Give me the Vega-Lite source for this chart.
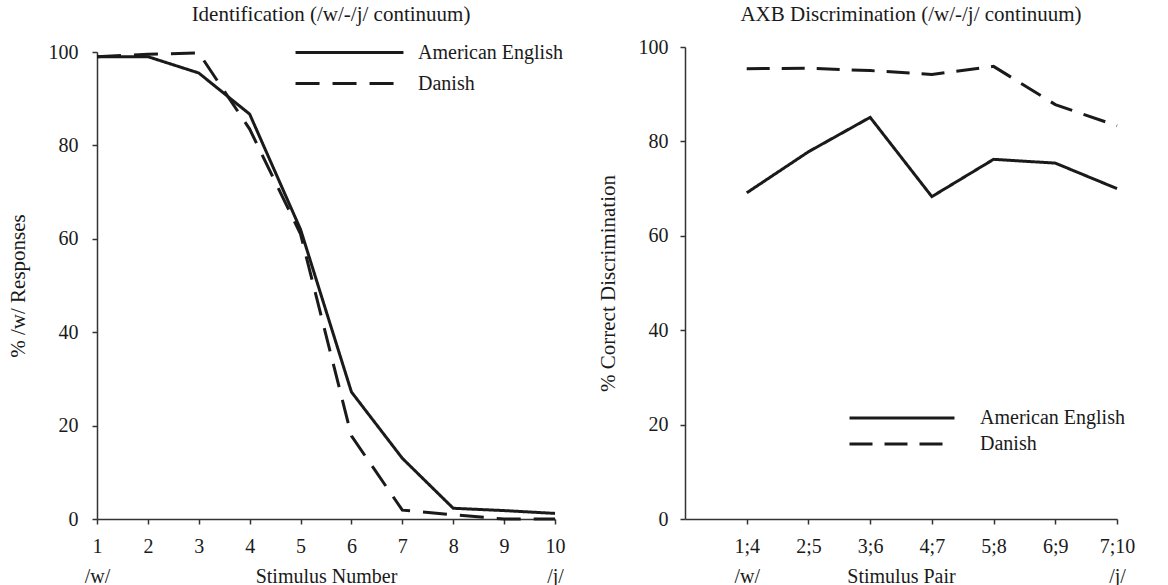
{
  "$schema": "https://vega.github.io/schema/vega-lite/v6.json",
  "background": "white",
  "padding": {"left": 7, "top": 4, "right": 5, "bottom": 0},
  "spacing": 32,
  "config": {
    "font": "Liberation Serif",
    "view": {"stroke": null},
    "axis": {
      "labelFont": "Liberation Serif",
      "titleFont": "Liberation Serif",
      "labelFontSize": 20,
      "titleFontSize": 21,
      "titleFontWeight": "normal",
      "labelColor": "#1a1a1a",
      "titleColor": "#1a1a1a",
      "domainColor": "#333",
      "tickColor": "#333",
      "domainWidth": 1.5,
      "tickWidth": 1.5,
      "tickSize": 5,
      "grid": false
    },
    "title": {"font": "Liberation Serif", "fontSize": 21, "fontWeight": "normal", "color": "#1a1a1a"},
    "legend": {"labelFont": "Liberation Serif", "labelFontSize": 20, "labelColor": "#1a1a1a"}
  },
  "hconcat": [
    {
      "title": {"text": "Identification (/w/-/j/ continuum)", "offset": 15, "dx": 5},
      "width": 458,
      "height": 472,
      "data": {"values": [
        {"stimulus": 1, "percent": 99.0, "language": "American English"},
        {"stimulus": 2, "percent": 99.0, "language": "American English"},
        {"stimulus": 3, "percent": 95.5, "language": "American English"},
        {"stimulus": 4, "percent": 86.7, "language": "American English"},
        {"stimulus": 5, "percent": 62.0, "language": "American English"},
        {"stimulus": 6, "percent": 27.2, "language": "American English"},
        {"stimulus": 7, "percent": 13.0, "language": "American English"},
        {"stimulus": 8, "percent": 2.3, "language": "American English"},
        {"stimulus": 9, "percent": 1.8, "language": "American English"},
        {"stimulus": 10, "percent": 1.2, "language": "American English"},
        {"stimulus": 1, "percent": 99.0, "language": "Danish"},
        {"stimulus": 2, "percent": 99.5, "language": "Danish"},
        {"stimulus": 3, "percent": 99.8, "language": "Danish"},
        {"stimulus": 4, "percent": 83.5, "language": "Danish"},
        {"stimulus": 5, "percent": 61.0, "language": "Danish"},
        {"stimulus": 6, "percent": 17.8, "language": "Danish"},
        {"stimulus": 7, "percent": 1.9, "language": "Danish"},
        {"stimulus": 8, "percent": 0.9, "language": "Danish"},
        {"stimulus": 9, "percent": 0.0, "language": "Danish"},
        {"stimulus": 10, "percent": 0.0, "language": "Danish"}
      ]},
      "mark": {"type": "line", "strokeWidth": 3, "color": "#1a1a1a"},
      "encoding": {
        "x": {
          "field": "stimulus", "type": "quantitative",
          "scale": {"domain": [1, 10], "nice": false, "zero": false},
          "axis": {
            "values": [1, 2, 3, 4, 5, 6, 7, 8, 9, 10],
            "labelExpr": "datum.value == 1 ? ['1', '/w/'] : (datum.value == 10 ? ['10', '/j/'] : datum.label)",
            "labelLineHeight": 30,
            "labelFlush": false,
            "labelOverlap": false,
            "labelPadding": 12,
            "title": "Stimulus Number",
            "titleFontSize": 20,
            "titleY": 63,
            "titleBaseline": "alphabetic"
          }
        },
        "y": {
          "field": "percent", "type": "quantitative",
          "scale": {"domain": [0, 100], "nice": false, "range": [472, 5]},
          "axis": {
            "values": [0, 20, 40, 60, 80, 100],
            "title": "% /w/ Responses",
            "labelPadding": 14,
            "titlePadding": 20
          }
        },
        "strokeDash": {
          "field": "language", "type": "nominal",
          "scale": {"domain": ["American English", "Danish"], "range": [[1, 0], [24, 13]]},
          "legend": {
            "title": null,
            "orient": "none",
            "legendX": 240,
            "legendY": -7,
            "symbolType": "M-5,0H5",
            "symbolSize": 466,
            "symbolStrokeWidth": 3,
            "symbolStrokeColor": "#1a1a1a",
            "rowPadding": 8,
            "labelOffset": 56
          }
        }
      }
    },
    {
      "title": {"text": "AXB Discrimination (/w/-/j/ continuum)", "offset": 12, "dx": 10},
      "width": 432,
      "height": 472,
      "data": {"values": [
        {"position": 1, "pair": "1;4", "percent": 69.1, "language": "American English"},
        {"position": 2, "pair": "2;5", "percent": 77.8, "language": "American English"},
        {"position": 3, "pair": "3;6", "percent": 85.1, "language": "American English"},
        {"position": 4, "pair": "4;7", "percent": 68.3, "language": "American English"},
        {"position": 5, "pair": "5;8", "percent": 76.2, "language": "American English"},
        {"position": 6, "pair": "6;9", "percent": 75.4, "language": "American English"},
        {"position": 7, "pair": "7;10", "percent": 70.0, "language": "American English"},
        {"position": 1, "pair": "1;4", "percent": 95.4, "language": "Danish"},
        {"position": 2, "pair": "2;5", "percent": 95.5, "language": "Danish"},
        {"position": 3, "pair": "3;6", "percent": 95.0, "language": "Danish"},
        {"position": 4, "pair": "4;7", "percent": 94.2, "language": "Danish"},
        {"position": 5, "pair": "5;8", "percent": 95.9, "language": "Danish"},
        {"position": 6, "pair": "6;9", "percent": 87.8, "language": "Danish"},
        {"position": 7, "pair": "7;10", "percent": 83.3, "language": "Danish"}
      ]},
      "mark": {"type": "line", "strokeWidth": 3, "color": "#1a1a1a"},
      "encoding": {
        "x": {
          "field": "position", "type": "quantitative",
          "scale": {"domain": [0, 7], "nice": false},
          "axis": {
            "values": [1, 2, 3, 4, 5, 6, 7],
            "labelExpr": "datum.value == 1 ? ['1;4', '/w/'] : (datum.value == 7 ? ['7;10', '/j/'] : ['', '1;4', '2;5', '3;6', '4;7', '5;8', '6;9', '7;10'][datum.value])",
            "labelLineHeight": 30,
            "labelFlush": false,
            "labelOverlap": false,
            "labelPadding": 12,
            "title": "Stimulus Pair",
            "titleFontSize": 20,
            "titleY": 63,
            "titleBaseline": "alphabetic"
          }
        },
        "y": {
          "field": "percent", "type": "quantitative",
          "scale": {"domain": [0, 100], "nice": false},
          "axis": {
            "values": [0, 20, 40, 60, 80, 100],
            "title": "% Correct Discrimination",
            "labelPadding": 12,
            "titlePadding": 20
          }
        },
        "strokeDash": {
          "field": "language", "type": "nominal",
          "scale": {"domain": ["American English", "Danish"], "range": [[1, 0], [23, 12]]},
          "legend": {
            "title": null,
            "orient": "none",
            "legendX": 205,
            "legendY": 359,
            "symbolType": "M-5,0H5",
            "symbolSize": 441,
            "symbolStrokeWidth": 3,
            "symbolStrokeColor": "#1a1a1a",
            "rowPadding": 4,
            "labelOffset": 66
          }
        }
      }
    }
  ],
  "resolve": {"scale": {"strokeDash": "independent"}, "legend": {"strokeDash": "independent"}}
}
